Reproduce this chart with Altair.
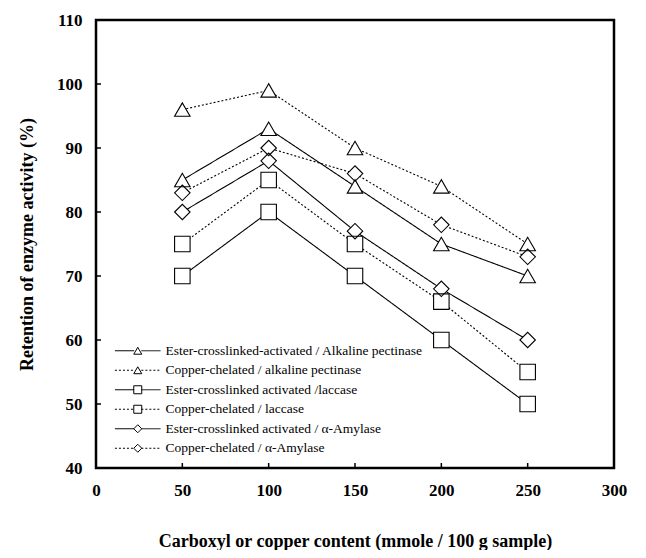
import altair as alt
import pandas as pd

x_vals = [50, 100, 150, 200, 250]
series_names = [
    "Ester-crosslinked-activated / Alkaline pectinase",
    "Copper-chelated / alkaline pectinase",
    "Ester-crosslinked activated /laccase",
    "Copper-chelated / laccase",
    "Ester-crosslinked activated / \u03b1-Amylase",
    "Copper-chelated / \u03b1-Amylase",
]
ester_pectinase = [85, 93, 84, 75, 70]
copper_pectinase = [96, 99, 90, 84, 75]
ester_laccase = [70, 80, 70, 60, 50]
copper_laccase = [75, 85, 75, 66, 55]
ester_amylase = [80, 88, 77, 68, 60]
copper_amylase = [83, 90, 86, 78, 73]
all_series = [ester_pectinase, copper_pectinase, ester_laccase,
              copper_laccase, ester_amylase, copper_amylase]

x_tick_vals = [50, 100, 150, 200, 250]
y_tick_vals = [50, 60, 70, 80, 90, 100]

# marker legend uses a separate (hidden-label) domain so it is not merged
marker_names = [n + " " for n in series_names]

rows = []
for name, mname, vals in zip(series_names, marker_names, all_series):
    for xv, yv in zip(x_vals, vals):
        rows.append({"x": xv, "y": yv, "series": name, "series2": mname})
df = pd.DataFrame(rows)

W, H = 518, 448
FONT = "Liberation Serif"

dash_range = [[1, 0], [2, 2], [1, 0], [2, 2], [1, 0], [2, 2]]
shape_range = ["triangle-up", "triangle-up", "square", "square", "diamond", "diamond"]

xscale = alt.Scale(domain=[0, 300], nice=False)
yscale = alt.Scale(domain=[40, 110], nice=False, zero=False)
shape_scale = alt.Scale(domain=marker_names, range=shape_range)

XTITLE = "Carboxyl or copper content (mmole / 100 g sample)"
YTITLE = "Retention of enzyme activity (%)"
xaxis = alt.Axis(values=[0, 50, 100, 150, 200, 250, 300], labelFlush=False,
                 title=XTITLE, labelPadding=14, titlePadding=34)
yaxis = alt.Axis(values=[40, 50, 60, 70, 80, 90, 100, 110],
                 title=YTITLE, labelPadding=14, titlePadding=20)

LEG_X, LEG_Y = 35, 324
LEG_SIZE = 64
ROWPAD = 4.5
LEG_FONT = 13.5
LINE_PATH = "M-5.7,0L-0.9,0M0.9,0L5.7,0"

base = alt.Chart(df)

lines = base.mark_line(color="black", strokeWidth=1.1).encode(
    x=alt.X("x:Q", scale=xscale, axis=xaxis),
    y=alt.Y("y:Q", scale=yscale, axis=yaxis),
    strokeDash=alt.StrokeDash(
        "series:N",
        scale=alt.Scale(domain=series_names, range=dash_range),
        legend=alt.Legend(
            title=None, orient="none", legendX=LEG_X, legendY=LEG_Y,
            symbolType=LINE_PATH, symbolSize=LEG_SIZE, symbolStrokeColor="black",
            symbolStrokeWidth=1, labelFont=FONT, labelFontSize=LEG_FONT,
            labelFontWeight="normal", labelColor="black", rowPadding=ROWPAD,
            padding=0, labelOffset=21, labelLimit=400,
        ),
    ),
)

# white interiors of the markers
fills = base.mark_point(filled=True, color="white", size=240, opacity=1).encode(
    x=alt.X("x:Q", scale=xscale, axis=xaxis),
    y=alt.Y("y:Q", scale=yscale, axis=yaxis),
    shape=alt.Shape("series2:N", scale=shape_scale, legend=None),
)

# marker outlines (with the marker legend)
outlines = base.mark_point(filled=False, color="black", strokeWidth=1.1,
                           size=240, opacity=1).encode(
    x=alt.X("x:Q", scale=xscale, axis=xaxis),
    y=alt.Y("y:Q", scale=yscale, axis=yaxis),
    shape=alt.Shape(
        "series2:N",
        scale=shape_scale,
        legend=alt.Legend(
            title=None, orient="none", legendX=LEG_X, legendY=LEG_Y,
            symbolSize=LEG_SIZE, symbolStrokeColor="black",
            symbolStrokeWidth=1, labelFont=FONT, labelFontSize=LEG_FONT,
            labelOpacity=0, rowPadding=ROWPAD, padding=0, labelOffset=21,
            labelLimit=400,
        ),
    ),
)

xt = pd.DataFrame({"x": x_tick_vals})
yt = pd.DataFrame({"y": y_tick_vals})
xticks = alt.Chart(xt).mark_rule(color="black", strokeWidth=1.5).encode(
    x=alt.X("x:Q", scale=xscale, axis=xaxis),
    y=alt.value(H), y2=alt.value(H - 5),
)
yticks = alt.Chart(yt).mark_rule(color="black", strokeWidth=1.5).encode(
    y=alt.Y("y:Q", scale=yscale, axis=yaxis),
    x=alt.value(0), x2=alt.value(5),
)

chart = alt.layer(lines, xticks, yticks, fills, outlines).resolve_legend(
    strokeDash="independent", shape="independent"
).properties(
    width=W, height=H,
    padding={"left": 10, "top": 3, "right": 5, "bottom": 0},
    background="white",
).configure_view(
    stroke="black", strokeWidth=2.5
).configure_axis(
    labelFont=FONT, labelFontSize=17, labelFontWeight="bold", labelColor="black",
    titleFont=FONT, titleFontSize=18, titleFontWeight="bold", titleColor="black",
    ticks=False, domain=False, grid=False,
)

chart.save("out.html", embed_options={"renderer": "svg", "actions": False})
